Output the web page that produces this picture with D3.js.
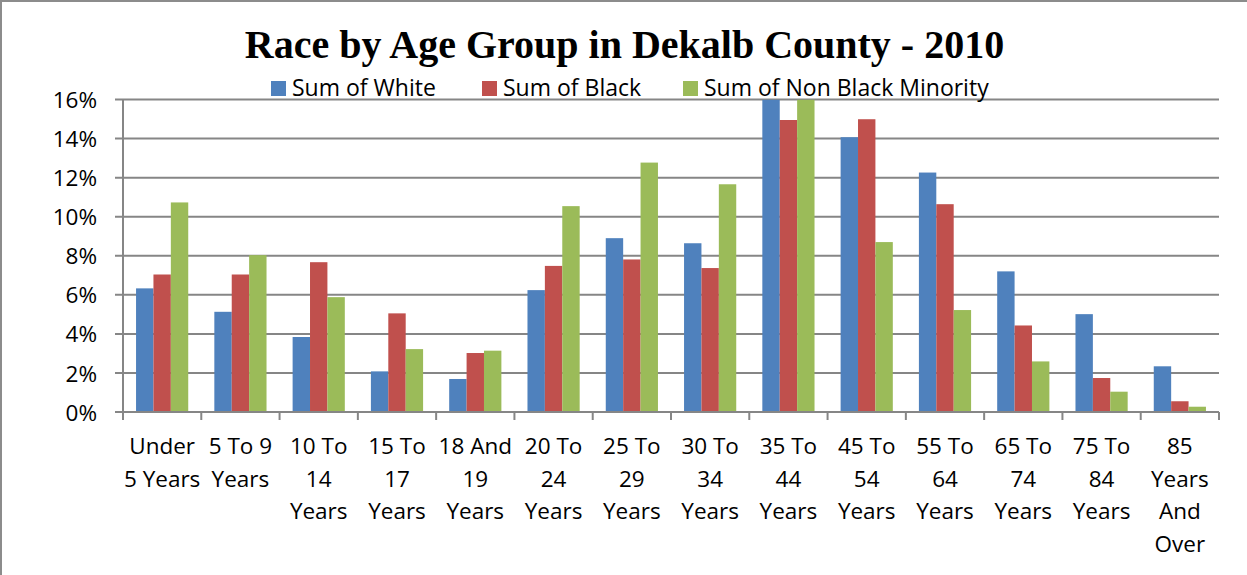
<!DOCTYPE html>
<html>
<head>
<meta charset="utf-8">
<script src="https://cdn.jsdelivr.net/npm/d3@7"></script>
<style>
  html, body { margin: 0; padding: 0; background: #fff; }
  svg { display: block; }
</style>
</head>
<body>
<svg id="chart" width="1247" height="575"></svg>
<script>
// Age groups (line breaks follow the wrapped axis labels)
const categories = [
  "Under\n5 Years", "5 To 9\nYears", "10 To\n14\nYears", "15 To\n17\nYears",
  "18 And\n19\nYears", "20 To\n24\nYears", "25 To\n29\nYears", "30 To\n34\nYears",
  "35 To\n44\nYears", "45 To\n54\nYears", "55 To\n64\nYears", "65 To\n74\nYears",
  "75 To\n84\nYears", "85\nYears\nAnd\nOver"
];

// Share of each group's population in each age bracket (%)
const white    = [6.33, 5.13, 3.84, 2.08, 1.69, 6.24, 8.90, 8.64, 16.0, 14.07, 12.26, 7.20, 5.01, 2.34];
const black    = [7.04, 7.04, 7.67, 5.05, 3.02, 7.48, 7.81, 7.37, 14.95, 14.99, 10.64, 4.43, 1.74, 0.55];
const nonBlack = [10.73, 8.03, 5.88, 3.22, 3.14, 10.54, 12.77, 11.66, 16.0, 8.70, 5.22, 2.59, 1.04, 0.27];

const seriesNames = ["Sum of White", "Sum of Black", "Sum of Non Black Minority"];
const seriesColors = ["#4F81BD", "#C0504D", "#9BBB59"];
const yTicks = [0, 2, 4, 6, 8, 10, 12, 14, 16];
const title = "Race by Age Group in Dekalb County - 2010";

const series = [white, black, nonBlack];

const svg = d3.select("#chart");
const W = 1247, H = 575;
const plot = { left: 123, right: 1219, top: 99.5, bottom: 412 };
const gridColor = "#868686";
const labelFont = "'Open Sans', 'Noto Sans', sans-serif";

// Chart frame
svg.append("rect")
  .attr("x", 1).attr("y", 1)
  .attr("width", W + 10).attr("height", H + 10)
  .attr("fill", "#fff")
  .attr("stroke", "#8c8c8c").attr("stroke-width", 2);

// Scales
const x0 = d3.scaleBand()
  .domain(d3.range(categories.length))
  .range([plot.left, plot.right])
  .paddingInner(0).paddingOuter(0);

const x1 = d3.scaleBand()
  .domain(d3.range(series.length))
  .range([0, x0.bandwidth()])
  .paddingInner(0)
  .paddingOuter(0.75);

const y = d3.scaleLinear().domain([0, 16]).range([plot.bottom, plot.top]);

// Horizontal gridlines
svg.append("g")
  .selectAll("line")
  .data(yTicks)
  .join("line")
  .attr("x1", plot.left - 8).attr("x2", plot.right)
  .attr("y1", d => y(d)).attr("y2", d => y(d))
  .attr("stroke", gridColor).attr("stroke-width", 2);

// Y axis labels
const yAxis = d3.axisLeft(y)
  .tickValues(yTicks)
  .tickFormat(d => d + "%")
  .tickSize(0)
  .tickPadding(26);

const yg = svg.append("g")
  .attr("transform", `translate(${plot.left},0)`)
  .call(yAxis);
yg.select(".domain").remove();
yg.selectAll("text")
  .attr("font-family", labelFont)
  .attr("font-size", 22.5)
  .attr("fill", "#000")
  .attr("dy", "0.36em");

// Bars, clipped at the top of the value axis
svg.append("clipPath").attr("id", "plotClip")
  .append("rect")
  .attr("x", plot.left).attr("y", plot.top)
  .attr("width", plot.right - plot.left)
  .attr("height", plot.bottom - plot.top);

const barsG = svg.append("g").attr("clip-path", "url(#plotClip)");
series.forEach((vals, si) => {
  barsG.append("g")
    .selectAll("rect")
    .data(vals)
    .join("rect")
    .attr("x", (d, i) => x0(i) + x1(si))
    .attr("y", d => y(d))
    .attr("width", x1.bandwidth())
    .attr("height", d => y(0) - y(d))
    .attr("fill", seriesColors[si]);
});

// Axis lines
svg.append("line")
  .attr("x1", plot.left).attr("x2", plot.left)
  .attr("y1", plot.top).attr("y2", plot.bottom + 8)
  .attr("stroke", gridColor).attr("stroke-width", 2);
svg.append("line")
  .attr("x1", plot.left - 8).attr("x2", plot.right)
  .attr("y1", plot.bottom).attr("y2", plot.bottom)
  .attr("stroke", gridColor).attr("stroke-width", 2);

// Category tick marks at band boundaries
const boundaries = d3.range(categories.length + 1);
svg.append("g")
  .selectAll("line")
  .data(boundaries)
  .join("line")
  .attr("x1", d => d < categories.length ? x0(d) : plot.right)
  .attr("x2", d => d < categories.length ? x0(d) : plot.right)
  .attr("y1", plot.bottom).attr("y2", plot.bottom + 8)
  .attr("stroke", gridColor).attr("stroke-width", 2);

// Category labels (multi-line)
const xl = svg.append("g")
  .selectAll("text")
  .data(categories)
  .join("text")
  .attr("x", (d, i) => x0(i) + x0.bandwidth() / 2)
  .attr("y", 454)
  .attr("text-anchor", "middle")
  .attr("font-family", labelFont)
  .attr("font-size", 22.5)
  .attr("fill", "#000");
xl.each(function(d, i) {
  const t = d3.select(this);
  const cx = x0(i) + x0.bandwidth() / 2;
  d.split("\n").forEach((line, li) => {
    t.append("tspan")
      .attr("x", cx)
      .attr("y", 454 + li * 32.5)
      .text(line);
  });
});

// Title
svg.append("text")
  .attr("x", 624.5).attr("y", 58)
  .attr("text-anchor", "middle")
  .attr("font-family", "'Liberation Serif', 'Times New Roman', serif")
  .attr("font-weight", "bold")
  .attr("font-size", 40)
  .attr("fill", "#000")
  .text(title);

// Legend
const legendX = [271, 482, 683];
const legend = svg.append("g");
seriesNames.forEach((name, i) => {
  legend.append("rect")
    .attr("x", legendX[i]).attr("y", 81)
    .attr("width", 15).attr("height", 15)
    .attr("fill", seriesColors[i]);
  legend.append("text")
    .attr("x", legendX[i] + 21).attr("y", 96)
    .attr("font-family", labelFont)
    .attr("font-size", 23)
    .attr("fill", "#000")
    .text(name);
});
</script>
</body>
</html>
